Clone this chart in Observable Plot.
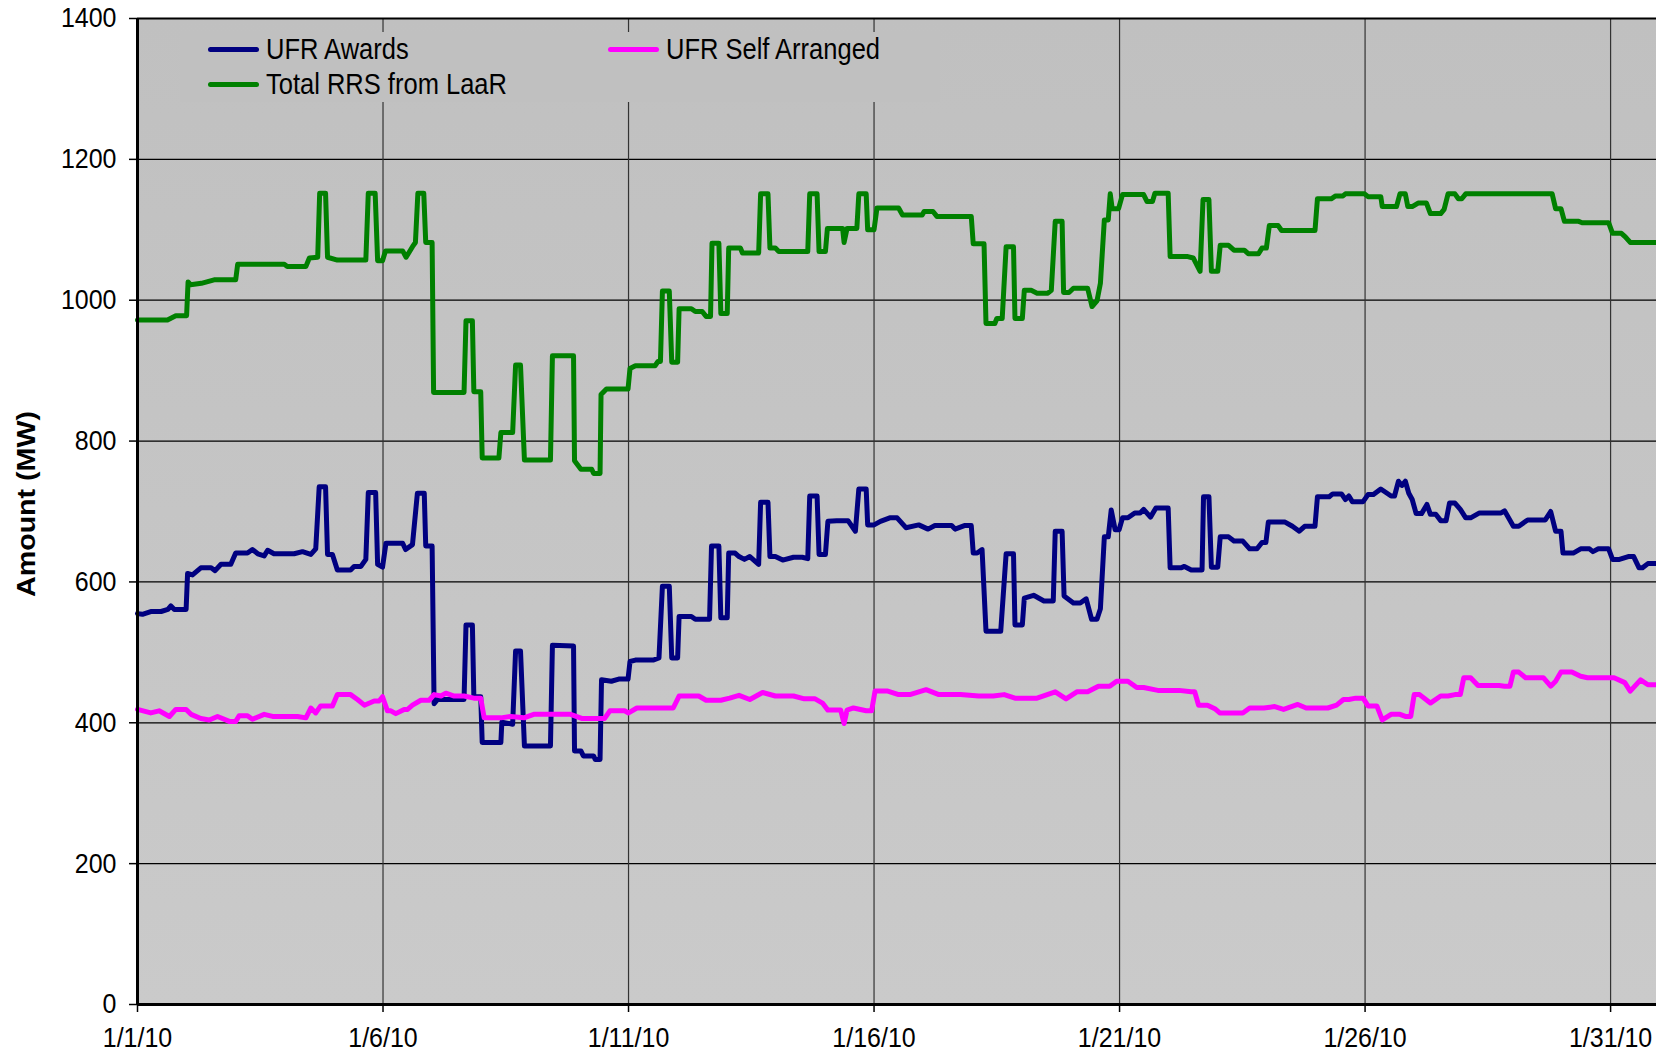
<!DOCTYPE html>
<html>
<head>
<meta charset="utf-8">
<script src="https://cdn.jsdelivr.net/npm/d3@7"></script>
<script src="https://cdn.jsdelivr.net/npm/@observablehq/plot@0.6"></script>
<style>
  body { margin: 0; background: #fff; }
  #wrap { position: relative; width: 1656px; height: 1053px; overflow: hidden; font-family: "Liberation Sans", Arial, sans-serif; color: #000; }
  #legend { position: absolute; left: 180px; top: 32px; width: 760px; height: 70px; background: #c0c0c0; }
  .item { position: absolute; display: flex; align-items: center; height: 35px; font-size: 25.5px; white-space: nowrap; }
  .item span { display: inline-block; transform: scaleY(1.12); }
  .sw { width: 51px; height: 5px; border-radius: 3px; margin-right: 7px; }
  #ylabel { position: absolute; left: 26px; top: 504px; transform: translate(-50%, -50%) rotate(-90deg) scaleX(1.1); font-size: 26px; font-weight: bold; white-space: nowrap; }
</style>
</head>
<body>
<div id="wrap">
  <div id="chart"></div>
  <div id="legend"></div>
  <div id="ylabel"></div>
</div>
<script>
// ---- data (day offset from 1/1/10 00:00, MW) ----
const seriesNames = ["UFR Awards", "UFR Self Arranged", "Total RRS from LaaR"];
const seriesColors = ["#000080", "#FF00FF", "#008000"];
const yTicks = [0, 200, 400, 600, 800, 1000, 1200, 1400];
const xTickDays = [0, 5, 10, 15, 20, 25, 30];
const yTitle = "Amount (MW)";

const totalRRS = [[0.00,972],[0.61,972],[0.78,978],[1.00,978],[1.03,1026],[1.08,1022],[1.30,1024],[1.56,1029],[2.00,1029],[2.04,1051],[2.99,1051],[3.05,1048],[3.43,1048],[3.50,1060],[3.67,1061],[3.71,1152],[3.83,1152],[3.87,1061],[4.07,1057],[4.65,1057],[4.70,1152],[4.84,1152],[4.89,1056],[4.99,1056],[5.05,1070],[5.40,1070],[5.47,1061],[5.60,1076],[5.66,1082],[5.71,1152],[5.83,1152],[5.87,1082],[6.00,1082],[6.03,869],[6.65,869],[6.69,971],[6.82,971],[6.85,870],[6.99,870],[7.02,776],[7.36,776],[7.40,812],[7.64,812],[7.70,908],[7.80,908],[7.88,773],[8.41,773],[8.45,921],[8.88,921],[8.90,772],[9.03,760],[9.25,760],[9.29,754],[9.42,754],[9.44,866],[9.55,874],[9.99,874],[10.03,903],[10.14,907],[10.54,907],[10.60,913],[10.65,913],[10.69,1013],[10.83,1013],[10.88,912],[11.00,912],[11.03,988],[11.28,988],[11.36,984],[11.50,984],[11.58,977],[11.67,977],[11.70,1081],[11.84,1081],[11.88,981],[12.01,981],[12.04,1074],[12.28,1074],[12.32,1067],[12.65,1067],[12.69,1151],[12.84,1151],[12.88,1074],[12.99,1074],[13.06,1069],[13.65,1069],[13.69,1151],[13.84,1151],[13.88,1069],[14.01,1069],[14.05,1102],[14.36,1102],[14.39,1082],[14.45,1102],[14.65,1102],[14.69,1151],[14.84,1151],[14.87,1100],[15.00,1100],[15.06,1131],[15.50,1131],[15.58,1121],[15.98,1121],[16.02,1126],[16.20,1126],[16.28,1119],[16.98,1119],[17.02,1080],[17.24,1080],[17.28,967],[17.46,967],[17.50,974],[17.61,974],[17.69,1076],[17.84,1076],[17.87,974],[18.02,974],[18.06,1014],[18.20,1014],[18.32,1010],[18.54,1010],[18.61,1014],[18.69,1112],[18.83,1112],[18.86,1011],[18.97,1011],[19.06,1017],[19.35,1017],[19.44,991],[19.54,999],[19.61,1024],[19.69,1114],[19.77,1114],[19.81,1151],[19.85,1130],[19.98,1130],[20.06,1150],[20.49,1150],[20.56,1140],[20.67,1140],[20.72,1152],[20.99,1152],[21.03,1062],[21.39,1062],[21.50,1060],[21.64,1041],[21.70,1143],[21.82,1143],[21.87,1041],[22.00,1041],[22.05,1078],[22.22,1078],[22.33,1071],[22.54,1071],[22.62,1066],[22.83,1066],[22.90,1074],[22.99,1074],[23.05,1106],[23.23,1106],[23.30,1099],[23.98,1099],[24.03,1144],[24.31,1144],[24.40,1148],[24.55,1148],[24.60,1151],[24.99,1151],[25.06,1147],[25.32,1147],[25.35,1133],[25.64,1133],[25.71,1151],[25.82,1151],[25.87,1133],[25.96,1133],[26.08,1138],[26.25,1138],[26.33,1123],[26.54,1123],[26.61,1129],[26.69,1151],[26.83,1151],[26.90,1144],[26.97,1144],[27.05,1151],[28.81,1151],[28.88,1130],[28.99,1130],[29.06,1112],[29.35,1112],[29.42,1110],[29.96,1110],[30.04,1095],[30.22,1095],[30.30,1090],[30.40,1082],[30.95,1082]];

const ufrAwards = [[0.00,555],[0.10,554],[0.27,558],[0.48,558],[0.62,561],[0.68,566],[0.75,561],[0.99,561],[1.02,612],[1.12,610],[1.29,620],[1.50,620],[1.58,616],[1.70,625],[1.90,625],[2.00,641],[2.24,641],[2.34,646],[2.45,640],[2.58,637],[2.65,645],[2.78,640],[3.19,640],[3.36,643],[3.53,639],[3.63,647],[3.70,735],[3.83,735],[3.87,639],[3.97,639],[4.07,617],[4.34,617],[4.41,622],[4.55,622],[4.65,632],[4.70,727],[4.85,727],[4.89,625],[4.99,621],[5.06,655],[5.40,655],[5.46,646],[5.60,653],[5.70,726],[5.84,726],[5.87,651],[6.00,651],[6.04,427],[6.11,433],[6.65,433],[6.69,539],[6.82,539],[6.85,437],[6.99,437],[7.02,372],[7.40,372],[7.42,401],[7.64,398],[7.70,502],[7.80,502],[7.88,367],[8.41,367],[8.45,510],[8.88,509],[8.90,360],[9.03,360],[9.08,353],[9.29,353],[9.32,348],[9.42,348],[9.45,461],[9.65,459],[9.80,462],[9.99,462],[10.03,487],[10.14,489],[10.50,489],[10.62,492],[10.69,594],[10.83,594],[10.88,492],[11.00,492],[11.03,551],[11.28,551],[11.36,547],[11.65,547],[11.69,651],[11.84,651],[11.88,549],[12.01,549],[12.04,641],[12.17,641],[12.25,636],[12.36,632],[12.47,636],[12.65,625],[12.69,713],[12.84,713],[12.88,636],[12.99,636],[13.14,631],[13.36,635],[13.54,635],[13.65,633],[13.69,722],[13.84,722],[13.88,639],[14.01,639],[14.06,686],[14.24,687],[14.47,687],[14.62,672],[14.69,732],[14.84,732],[14.87,681],[15.00,681],[15.13,686],[15.32,691],[15.47,691],[15.65,677],[15.91,681],[16.10,675],[16.24,680],[16.58,680],[16.65,675],[16.84,680],[16.98,680],[17.02,641],[17.10,641],[17.20,646],[17.28,530],[17.58,530],[17.69,640],[17.84,640],[17.87,539],[18.02,539],[18.06,577],[18.25,581],[18.46,573],[18.65,573],[18.69,672],[18.83,672],[18.87,580],[19.06,570],[19.20,570],[19.32,576],[19.43,547],[19.54,547],[19.61,562],[19.69,664],[19.77,664],[19.83,702],[19.91,674],[19.99,674],[20.06,691],[20.17,691],[20.31,698],[20.42,698],[20.49,703],[20.63,692],[20.74,705],[20.99,705],[21.03,620],[21.25,620],[21.32,622],[21.46,617],[21.68,617],[21.71,721],[21.82,721],[21.87,621],[22.00,621],[22.05,664],[22.22,664],[22.33,658],[22.51,658],[22.65,647],[22.80,647],[22.90,656],[22.98,656],[23.03,685],[23.37,685],[23.52,679],[23.66,672],[23.77,679],[23.98,679],[24.03,721],[24.27,721],[24.34,725],[24.52,725],[24.60,717],[24.67,722],[24.74,714],[24.96,714],[25.06,724],[25.17,724],[25.32,732],[25.53,722],[25.60,722],[25.68,743],[25.75,737],[25.82,743],[25.89,726],[25.96,717],[26.04,697],[26.15,697],[26.26,710],[26.33,696],[26.44,696],[26.54,687],[26.65,687],[26.72,712],[26.83,712],[26.94,703],[27.05,691],[27.15,691],[27.33,698],[27.77,698],[27.84,701],[28.02,679],[28.13,679],[28.31,688],[28.67,688],[28.78,700],[28.88,672],[28.99,672],[29.03,641],[29.24,641],[29.39,647],[29.57,647],[29.64,643],[29.75,647],[29.96,647],[30.04,632],[30.18,632],[30.36,636],[30.47,636],[30.58,620],[30.65,620],[30.76,626],[30.95,626]];

const ufrSelf = [[0.00,419],[0.27,414],[0.44,417],[0.65,409],[0.78,419],[0.99,419],[1.09,412],[1.29,406],[1.46,404],[1.63,409],[1.87,402],[2.00,402],[2.07,410],[2.24,410],[2.34,405],[2.58,412],[2.75,409],[3.26,409],[3.43,407],[3.53,421],[3.63,414],[3.73,424],[3.97,424],[4.07,440],[4.34,440],[4.48,433],[4.62,425],[4.82,431],[4.92,431],[4.99,437],[5.09,417],[5.16,417],[5.26,413],[5.43,419],[5.50,419],[5.60,425],[5.77,432],[5.94,432],[6.04,440],[6.18,438],[6.28,442],[6.45,438],[6.65,438],[6.85,435],[6.99,435],[7.06,407],[7.40,407],[7.60,409],[7.87,407],[8.07,412],[8.82,412],[9.06,406],[9.51,406],[9.62,417],[9.92,417],[10.00,414],[10.17,421],[10.91,421],[11.03,438],[11.43,438],[11.58,432],[11.88,432],[12.06,435],[12.25,439],[12.47,433],[12.73,443],[12.99,438],[13.36,438],[13.58,434],[13.80,434],[13.95,428],[14.06,418],[14.32,418],[14.39,399],[14.45,418],[14.58,421],[14.84,417],[14.95,417],[15.02,445],[15.28,445],[15.50,440],[15.73,440],[16.06,447],[16.32,440],[16.76,440],[17.13,438],[17.43,438],[17.65,440],[17.87,435],[18.32,435],[18.69,444],[18.91,434],[19.13,444],[19.35,444],[19.57,452],[19.80,452],[19.94,459],[20.17,459],[20.35,450],[20.49,450],[20.78,446],[21.21,446],[21.46,444],[21.53,444],[21.61,425],[21.79,425],[21.94,420],[22.04,414],[22.51,414],[22.65,421],[22.94,421],[23.16,423],[23.34,419],[23.63,426],[23.80,421],[24.24,421],[24.42,425],[24.56,433],[24.67,433],[24.81,435],[24.96,435],[25.06,424],[25.24,424],[25.35,404],[25.53,412],[25.71,412],[25.82,409],[25.93,409],[26.00,440],[26.11,440],[26.33,428],[26.54,438],[26.69,438],[26.83,440],[26.94,440],[27.01,464],[27.15,464],[27.30,453],[27.73,453],[27.84,452],[27.95,452],[28.02,472],[28.13,472],[28.27,464],[28.63,464],[28.78,452],[28.88,459],[28.99,472],[29.21,472],[29.39,466],[29.53,464],[30.07,464],[30.29,457],[30.40,445],[30.61,461],[30.76,454],[30.95,454]];

// ---- build ----
const start = new Date(2010, 0, 1);
const toDate = d => new Date(start.getTime() + d * 864e5);
const xEnd = toDate(30.935);
const seriesData = [ufrAwards, ufrSelf, totalRRS];
const rows = seriesData.flatMap((arr, i) => arr.map(([d, v]) => ({date: toDate(d), mw: v, series: seriesNames[i]})));
const xTicks = xTickDays.map(toDate);
const fmt = d3.timeFormat("%-m/%-d/%y");

const background = (index, scales, values, dims) => {
  const ns = "http://www.w3.org/2000/svg";
  const g = document.createElementNS(ns, "g");
  const defs = document.createElementNS(ns, "defs");
  defs.innerHTML = `<linearGradient id="bggrad" x1="0" y1="0" x2="0" y2="1"><stop offset="0" stop-color="#c0c0c0"/><stop offset="1" stop-color="#cacaca"/></linearGradient>`;
  g.appendChild(defs);
  const r = document.createElementNS(ns, "rect");
  r.setAttribute("x", dims.marginLeft);
  r.setAttribute("y", dims.marginTop);
  r.setAttribute("width", dims.width - dims.marginLeft - dims.marginRight);
  r.setAttribute("height", dims.height - dims.marginTop - dims.marginBottom);
  r.setAttribute("fill", "url(#bggrad)");
  g.appendChild(r);
  return g;
};

const chart = Plot.plot({
  width: 1656,
  height: 1053,
  marginLeft: 137,
  marginRight: 0,
  marginTop: 18,
  marginBottom: 49,
  style: {fontFamily: "'Liberation Sans', Arial, sans-serif", fontSize: "25px", background: "transparent", color: "#000"},
  x: {type: "time", domain: [start, xEnd]},
  y: {domain: [0, 1400]},
  marks: [
    background,
    Plot.gridY(yTicks.slice(1, -1), {stroke: "#000", strokeOpacity: 1, strokeWidth: 1.2}),
    Plot.gridX(xTicks.slice(1), {stroke: "#333", strokeOpacity: 1, strokeWidth: 1.2}),
    ...seriesNames.map((name, i) => Plot.lineY(rows.filter(r => r.series === name), {
      x: "date", y: "mw", stroke: seriesColors[i], strokeWidth: 5, strokeLinejoin: "round", strokeLinecap: "round"
    })),
    Plot.ruleY([1400], {stroke: "#000", strokeWidth: 2}),
    Plot.ruleY([0], {stroke: "#000", strokeWidth: 3}),
    Plot.ruleX([start], {stroke: "#000", strokeWidth: 3}),
    Plot.axisY(yTicks, {tickSize: 8, tickPadding: 13, label: null, strokeWidth: 1.5, tickFormat: d3.format("d")}),
    Plot.axisX(xTicks, {tickSize: 8, tickPadding: 15, tickFormat: fmt, label: null, strokeWidth: 1.5})
  ]
});
document.getElementById("chart").appendChild(chart);

// slight vertical stretch of tick labels, as in the reference's condensed type
chart.querySelectorAll("text").forEach(t => {
  const tr = t.getAttribute("transform");
  if (tr && /^translate\(/.test(tr)) t.setAttribute("transform", tr + " scale(1,1.12)");
});

// legend
const legend = document.getElementById("legend");
const positions = [[28, 0], [428, 0], [28, 35]];
seriesNames.forEach((name, i) => {
  const it = document.createElement("div");
  it.className = "item";
  it.style.left = positions[i][0] + "px";
  it.style.top = positions[i][1] + "px";
  it.innerHTML = `<div class="sw" style="background:${seriesColors[i]}"></div><span>${name}</span>`;
  legend.appendChild(it);
});
document.getElementById("ylabel").textContent = yTitle;
</script>
</body>
</html>
